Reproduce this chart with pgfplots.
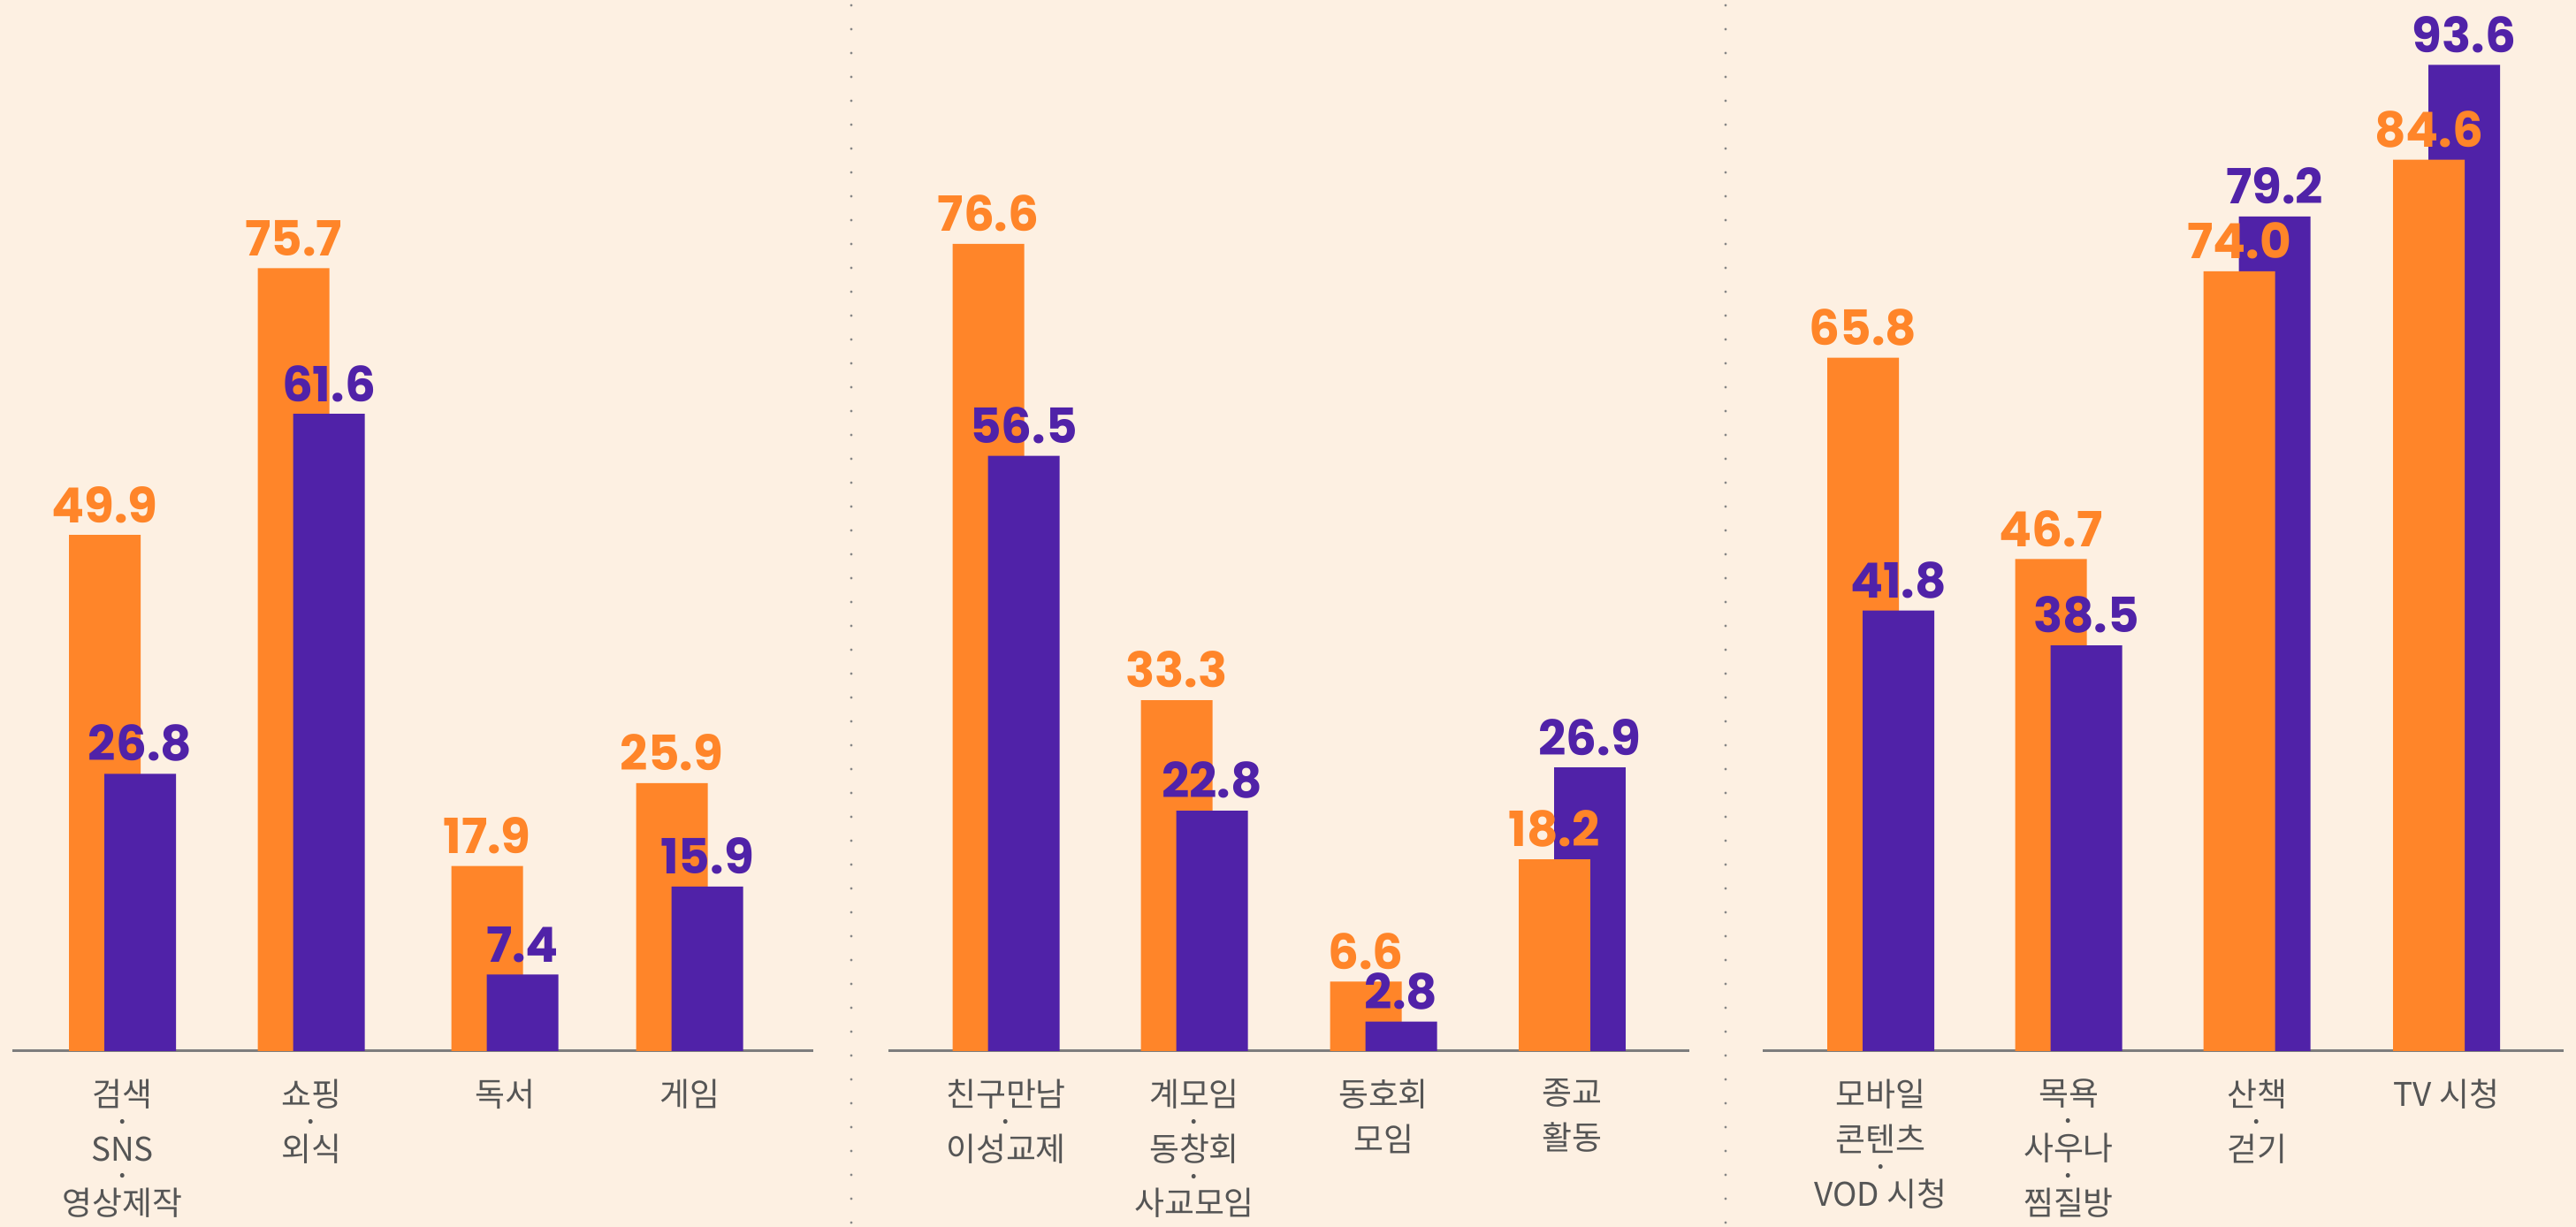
\documentclass[border=0pt]{standalone}
\usepackage{pgfplots}
\pgfplotsset{compat=1.18}
\usepackage{fontspec}
\setmainfont{Noto Sans CJK KR}
\newfontfamily\numfont{Poppins}
\definecolor{bg}{RGB}{253,240,226}
\definecolor{orng}{RGB}{255,133,41}
\definecolor{purp}{RGB}{80,34,168}
\definecolor{lbl}{RGB}{85,85,85}
\definecolor{axl}{RGB}{125,125,125}
\definecolor{sep}{RGB}{135,135,135}
\pgfplotsset{
 panel/.style={
  at={(0mm,19.9mm)}, anchor=south west, scale only axis,
  width=291.4mm, height=118.9mm,
  xmin=0, xmax=2914, ymin=0,
  axis line style={draw=none}, ytick=\empty, xtick style={draw=none},
  ybar, bar shift=0pt, bar width=81, clip=false,
  xticklabel style={font=\fontsize{10.5}{14.5}\selectfont, text=lbl, align=center, inner sep=0pt, anchor=north, yshift=-1.6mm},
  nodes near coords, point meta=rawy,
  every node near coord/.append style={font=\numfont\bfseries\fontsize{15.6}{16}\selectfont, inner sep=0pt, anchor=south, yshift=1.3mm,
    /pgf/number format/fixed, /pgf/number format/fixed zerofill, /pgf/number format/precision=1, /pgf/number format/assume math mode=true},
 },
 ob/.style={fill=orng, draw=none, every node near coord/.append style={text=orng}},
 pb/.style={fill=purp, draw=none, every node near coord/.append style={text=purp}},
}
\begin{document}
\begin{tikzpicture}
\fill[bg] (0,0) rectangle (291.4mm,138.8mm);
\path[use as bounding box] (0,0) rectangle (291.4mm,138.8mm);
\draw[sep, line width=0.33mm, line cap=round, dash pattern=on 0pt off 2.7mm] (96.3mm,0.5mm) -- (96.3mm,138.5mm);
\draw[sep, line width=0.33mm, line cap=round, dash pattern=on 0pt off 2.7mm] (195.2mm,0.5mm) -- (195.2mm,138.5mm);
% Panel 1
\begin{axis}[panel, ymax=101.62,
  xtick={138.5,352,571,780},
  xticklabels={{검색\\[-5.7pt]·\\[-5.7pt]SNS\\[-5.7pt]·\\[-5.7pt]영상제작},{쇼핑\\[-5.7pt]·\\[-5.7pt]외식},{독서},{게임}}]
\draw[axl, line width=0.3mm] (axis cs:14,0) -- (axis cs:920,0);
\addplot[ob] coordinates {(118.5,49.9) (332,75.7) (551,17.9) (760,25.9)};
\addplot[pb] coordinates {(158.5,26.8) (372,61.6) (591,7.4) (800,15.9)};
\end{axis}
% Panel 2
\begin{axis}[panel, ymax=99.75,
  xtick={1138,1351,1565,1778},
  xticklabels={{친구만남\\[-5.7pt]·\\[-5.7pt]이성교제},{계모임\\[-5.7pt]·\\[-5.7pt]동창회\\[-5.7pt]·\\[-5.7pt]사교모임},{동호회\\모임},{종교\\활동}}]
\draw[axl, line width=0.3mm] (axis cs:1005,0) -- (axis cs:1911,0);
\addplot[ob] coordinates {(1118,76.6) (1331,33.3) (1545,6.6)};
\addplot[pb] coordinates {(1798,26.9)};
\addplot[ob] coordinates {(1758,18.2)};
\addplot[pb] coordinates {(1158,56.5) (1371,22.8) (1585,2.8)};
\end{axis}
% Panel 3
\begin{axis}[panel, ymax=99.75,
  xtick={2127.5,2340,2553,2767.5},
  xticklabels={{모바일\\콘텐츠\\[-5.7pt]·\\[-5.7pt]VOD 시청},{목욕\\[-5.7pt]·\\[-5.7pt]사우나\\[-5.7pt]·\\[-5.7pt]찜질방},{산책\\[-5.7pt]·\\[-5.7pt]걷기},{TV 시청}}]
\draw[axl, line width=0.3mm] (axis cs:1994,0) -- (axis cs:2900,0);
\addplot[ob] coordinates {(2107.5,65.8) (2320,46.7)};
\addplot[pb] coordinates {(2573,79.2) (2787.5,93.6)};
\addplot[ob] coordinates {(2533,74.0) (2747.5,84.6)};
\addplot[pb] coordinates {(2147.5,41.8) (2360,38.5)};
\end{axis}
\end{tikzpicture}
\end{document}
